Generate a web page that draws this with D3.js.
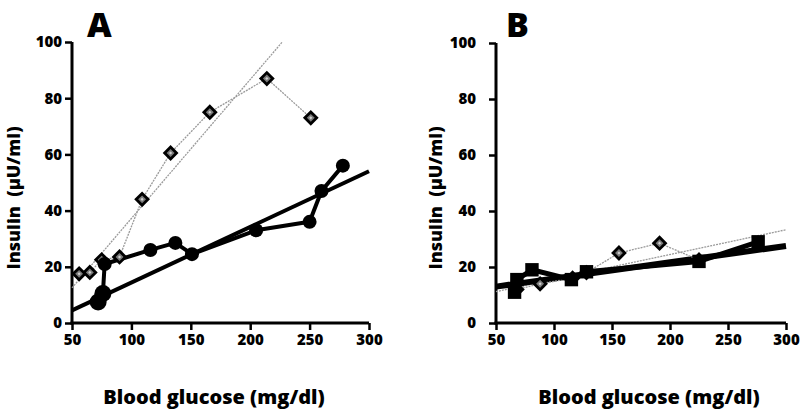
<!DOCTYPE html>
<html><head><meta charset="utf-8">
<script src="https://cdn.jsdelivr.net/npm/d3@7"></script>
<style>
body{margin:0;background:#fff;}
svg{display:block;}
text{font-family:"Open Sans",sans-serif;font-weight:800;fill:#000;}
</style></head>
<body><svg id="c" width="800" height="414"></svg>
<script>
// ---- data ----
const xTicks = [50, 100, 150, 200, 250, 300];
const yTicks = [0, 20, 40, 60, 80, 100];

const A_diamondGlucose = [56, 65, 75, 90, 109, 133, 166, 214, 251];
const A_diamondInsulin = [17.5, 18, 22.5, 23.5, 44, 60.5, 75, 87, 73];
const A_circleGlucose = [72, 76, 77.5, 116, 137, 151, 205, 250, 260, 278];
const A_circleInsulin = [7.5, 10.5, 21, 26, 28.5, 24.5, 33, 36, 47, 56];
const A_fitGrayX = [50, 227];
const A_fitGrayY = [12.5, 100];
const A_fitBlackX = [50, 300];
const A_fitBlackY = [4.5, 54];

const B_diamondGlucose = [68, 88, 116, 128, 156, 191, 225];
const B_diamondInsulin = [12, 14, 16, 18, 25, 28.5, 22.5];
const B_squareGlucose = [66, 68, 81, 115, 128, 225, 276];
const B_squareInsulin = [11, 15.5, 19, 15.5, 18.3, 22, 29];
const B_fitGrayX = [50, 300];
const B_fitGrayY = [11.2, 33.3];
const B_fitBlackX = [50, 300];
const B_fitBlackY = [13, 27.5];

const zip = (a, b) => a.map((v, i) => [v, b[i]]);

const svg = d3.select("#c");

function panel(cfg) {
  const x = d3.scaleLinear().domain([50, 300]).range(cfg.xr);
  const y = d3.scaleLinear().domain([0, 100]).range(cfg.yr);
  const g = svg.append("g");
  const line = d3.line().x(d => x(d[0])).y(d => y(d[1]));

  // axes
  const ax = g.append("g").attr("transform", `translate(0,${cfg.yr[0]})`)
    .call(d3.axisBottom(x).tickValues(xTicks).tickSize(7).tickSizeOuter(0).tickPadding(4));
  const ay = g.append("g").attr("transform", `translate(${cfg.xr[0]},0)`)
    .call(d3.axisLeft(y).tickValues(yTicks).tickSize(7).tickSizeOuter(0).tickPadding(cfg.ypad));
  [ax, ay].forEach(a => {
    a.select(".domain").attr("stroke", "#000").attr("stroke-width", 3);
    a.selectAll(".tick line").attr("stroke", "#000").attr("stroke-width", 2.5);
    a.selectAll(".tick text").attr("font-size", 15).attr("font-family", "Open Sans").attr("font-weight", 800).attr("fill", "#000");
  });
  ax.select(".domain").attr("d", `M${cfg.xr[0]-1.5},0H${cfg.xr[1]}`);
  ay.select(".domain").attr("d", `M0,${cfg.yr[0]+1.5}V${cfg.yr[1]}`);

  // fits
  g.append("path").datum(zip(cfg.fitGrayX, cfg.fitGrayY)).attr("d", line)
    .attr("fill", "none").attr("stroke", "#9a9a9a").attr("stroke-width", 1.3).attr("stroke-dasharray", "2,1");
  g.append("path").datum(zip(cfg.fitBlackX, cfg.fitBlackY)).attr("d", line)
    .attr("fill", "none").attr("stroke", "#000").attr("stroke-width", cfg.fitW);

  // gray polyline + diamonds
  const dd = zip(cfg.dX, cfg.dY);
  g.append("path").datum(dd).attr("d", line)
    .attr("fill", "none").attr("stroke", "#9a9a9a").attr("stroke-width", 1.3).attr("stroke-dasharray", "2,1");

  // black polyline
  const bd = zip(cfg.bX, cfg.bY);
  g.append("path").datum(bd).attr("d", line)
    .attr("fill", "none").attr("stroke", "#000").attr("stroke-width", cfg.polyW).attr("stroke-linejoin", "round");

  const sq = d3.symbol().type(d3.symbolSquare);
  const dg = g.selectAll(".dia").data(dd).join("g")
    .attr("transform", d => `translate(${x(d[0])},${y(d[1])}) rotate(45)`);
  dg.append("path").attr("d", sq.size(70)()).attr("fill", "#7a7a7a").attr("stroke", "#000").attr("stroke-width", 2.8);
  dg.append("path").attr("d", sq.size(5)()).attr("fill", "#d0d0d0");

  if (cfg.marker === "circle") {
    g.selectAll(".pt").data(bd).join("circle")
      .attr("cx", d => x(d[0])).attr("cy", d => y(d[1]))
      .attr("r", (d, i) => i < 2 ? 8.5 : 7).attr("fill", "#000");
  } else {
    g.selectAll(".pt").data(bd).join("path")
      .attr("transform", d => `translate(${x(d[0])},${y(d[1])})`)
      .attr("d", sq.size(180)()).attr("fill", "#000");
  }

  // labels
  svg.append("text").attr("x", cfg.titleX).attr("y", 37).attr("font-size", 34)
    .attr("font-family", "Liberation Sans, Arial, sans-serif").attr("font-weight", 900).text(cfg.title);
  svg.append("text").attr("transform", `translate(${cfg.ylabX},198) rotate(-90)`)
    .attr("text-anchor", "middle").attr("font-size", 18).text("Insulin\u00a0\u00a0(\u03bcU/ml)");
  svg.append("text").attr("x", cfg.xlabX).attr("y", 404).attr("text-anchor", "middle")
    .attr("font-size", 20).text("Blood glucose (mg/dl)");
}

panel({xr: [72, 369], yr: [323, 42], ypad: 3, fitW: 4, polyW: 4, marker: "circle",
  dX: A_diamondGlucose, dY: A_diamondInsulin, bX: A_circleGlucose, bY: A_circleInsulin,
  fitGrayX: A_fitGrayX, fitGrayY: A_fitGrayY, fitBlackX: A_fitBlackX, fitBlackY: A_fitBlackY,
  title: "A", titleX: 87, ylabX: 20, xlabX: 214});
panel({xr: [496, 786], yr: [323, 43], ypad: 13, fitW: 6, polyW: 5, marker: "square",
  dX: B_diamondGlucose, dY: B_diamondInsulin, bX: B_squareGlucose, bY: B_squareInsulin,
  fitGrayX: B_fitGrayX, fitGrayY: B_fitGrayY, fitBlackX: B_fitBlackX, fitBlackY: B_fitBlackY,
  title: "B", titleX: 506, ylabX: 442, xlabX: 649});
</script></body></html>
